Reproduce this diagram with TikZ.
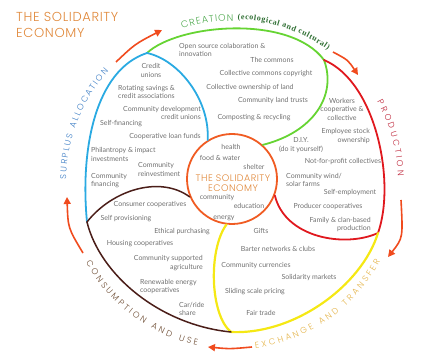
\documentclass[tikz,border=0pt]{standalone}
\usepackage{fontspec}
\setmainfont{Lato}
\IfFontExistsTF{Poppins Light}
  {\newfontfamily\hand{Poppins Light}[LetterSpace=5]}
  {\newfontfamily\hand{Poppins}[LetterSpace=5]}
\newfontfamily\serifb{Liberation Serif}
\usetikzlibrary{arrows.meta,decorations.text,calc}
\definecolor{txtgray}{RGB}{112,112,112}
\definecolor{cblue}{RGB}{42,170,226}
\definecolor{cgreen}{RGB}{102,212,51}
\definecolor{cred}{RGB}{224,24,30}
\definecolor{cyellow}{RGB}{245,232,20}
\definecolor{cbrown}{RGB}{75,30,25}
\definecolor{ccore}{RGB}{240,92,35}
\definecolor{carrow}{RGB}{240,75,30}
\definecolor{ctitle}{RGB}{224,136,58}
\definecolor{lgreen}{RGB}{80,170,80}
\definecolor{dgreen}{RGB}{46,110,50}
\definecolor{lred}{RGB}{190,38,58}
\definecolor{lgold}{RGB}{228,180,74}
\definecolor{lbrown}{RGB}{109,76,51}
\definecolor{lblue}{RGB}{60,125,196}
\begin{document}
\begin{tikzpicture}[x=1pt,y=-1pt,
  lbl/.style={font=\fontsize{7}{8.5}\selectfont, text=txtgray, inner sep=0pt, align=center},
  lbll/.style={lbl, align=left, anchor=west},
  lblr/.style={lbl, align=right, anchor=east},
  petal/.style={line width=1.8pt, line cap=round, line join=round},
  arr/.style={draw=carrow, line width=1.6pt, -{Triangle[length=7pt,width=7pt]}},
  arclab/.style={decorate, decoration={text along path, text align={fit to path}}}
]
\useasboundingbox (0,0) rectangle (422,352);
\coordinate (C) at (232,182);

% core circle
\node[circle, draw=ccore, line width=1.8pt, minimum size=90pt, inner sep=0pt] (core) at (232,179) {};

% junctions
\coordinate (J1) at (147,53);
\coordinate (J2) at (324,60);
\coordinate (J3) at (378,233);
\coordinate (J4) at (231,332);
\coordinate (J5) at (87,222);

% petals
\draw[petal, cgreen] (J1) .. controls (178,24) and (290,14) .. (J2);
\draw[petal, cgreen] (J2) .. controls (337,95) and (314,132) .. (core.48);
\draw[petal, cblue] (J1) .. controls (95,70) and (80,150) .. (J5);
\draw[petal, cblue] (J1) .. controls (179,60) and (210,100) .. (core.122);
\draw[petal, cred] (J2) .. controls (376,82) and (396,182) .. (J3);
\draw[petal, cred] (J3) .. controls (345,248) and (285,238) .. (core.-21);
\draw[petal, cyellow, line width=2.2pt] (J3) .. controls (362,285) and (295,335) .. (J4);
\draw[petal, cyellow, line width=2.2pt] (core.-97) .. controls (208,250) and (210,315) .. (J4);
\draw[petal, cbrown, line width=1.5pt] (J5) .. controls (100,275) and (160,325) .. (J4);
\draw[petal, cbrown, line width=1.5pt] (J5) .. controls (112,190) and (160,175) .. (core.203);

% outer arrows
\coordinate (a1s) at (116,62); \coordinate (a1e) at (162,30);
\coordinate (a2s) at (333,52); \coordinate (a2e) at (358,75);
\coordinate (a3s) at (401,200); \coordinate (a3e) at (388,257);
\coordinate (a4s) at (252,347); \coordinate (a4e) at (208,347);
\coordinate (a5s) at (83,253); \coordinate (a5e) at (67,197);
\draw[arr] (a1s) .. controls (135,44) .. (a1e);
\draw[arr] (a2s) .. controls (348,60) .. (a2e);
\draw[arr] (a3s) .. controls (403,238) .. (a3e);
\draw[arr] (a4s) .. controls (230,349) .. (a4e);
\draw[arr] (a5s) .. controls (68,228) .. (a5e);

% title
\node[anchor=west, inner sep=0pt, text=ctitle, font=\hand\fontsize{13}{16.5}\selectfont, align=left] (title) at (16,25) {THE SOLIDARITY\\ECONOMY};

% arc labels
\path[arclab, decoration={text={|\hand\fontsize{9.5}{10}\selectfont|CREATION}, text color=lgreen}]
  ($(C)+(-108:161)$) arc[start angle=-108, end angle=-89.5, radius=161];
\path[arclab, decoration={text={|\serifb\bfseries\fontsize{8}{9}\selectfont|(ecological and cultural)}, text color=dgreen}]
  ($(C)+(-88:163)$) arc[start angle=-88, end angle=-54, radius=163];
\path[arclab, decoration={text={|\hand\fontsize{8.5}{10}\selectfont|PRODUCTION}, text color=lred}]
  ($(C)+(-29:166)$) arc[start angle=-29, end angle=-2, radius=166];
\path[arclab, decoration={text={|\hand\fontsize{8.5}{10}\selectfont|EXCHANGE AND TRANSFER}, text color=lgold}]
  ($(C)+(82:168)$) arc[start angle=82, end angle=28, radius=168];
\path[arclab, decoration={text={|\hand\fontsize{8.5}{10}\selectfont|CONSUMPTION AND USE}, text color=lbrown}]
  ($(C)+(151:167)$) arc[start angle=151, end angle=102, radius=167];
\path[arclab, decoration={text={|\hand\fontsize{8.5}{10}\selectfont|SURPLUS ALLOCATION}, text color=lblue}]
  ($(C)+(181:166)$) arc[start angle=181, end angle=222, radius=166];

% blue region
\node[lbl] (b1) at (151,70.5) {Credit\\unions};
\node[lbll] (b2) at (118,92) {Rotating savings \&\\credit associations};
\node[lblr] (b3) at (201,113) {Community development\\credit unions};
\node[lbl] (b4) at (121,124) {Self-financing};
\node[lbl] (b5) at (165,137) {Cooperative loan funds};
\node[lbll] (b6) at (91,154.5) {Philantropy \& impact\\investments};
\node[lbll] (b7) at (138,169.5) {Community\\reinvestiment};
\node[lbll] (b8) at (91,180.5) {Community\\financing};

% green region
\node[lbll] (g1) at (179,50) {Open source colaboration \&\\innovation};
\node[lbl] (g2) at (272,60) {The commons};
\node[lbl] (g3) at (266,74) {Collective commons copyright};
\node[lbl] (g4) at (250,88) {Collective ownership of land};
\node[lbl] (g5) at (273,101) {Community land trusts};
\node[lbl] (g6) at (254,118) {Composting \& recycling};

% red region
\node[lbl] (r1) at (342,109) {Workers\\cooperative \&\\collective};
\node[lblr] (r2) at (370,136) {Employee stock\\ownership};
\node[lbl] (r3) at (301,145) {D.I.Y.\\(do it yourself)};
\node[lbl] (r4) at (343,162) {Not-for-profit collectives};
\node[lbll] (r5) at (286,180) {Community wind/\\solar farms};
\node[lbl] (r6) at (350,193) {Self-employment};
\node[lbl] (r7) at (328,207) {Producer cooperatives};
\node[lblr] (r8) at (371,224.5) {Family \& clan-based\\production};

% core texts
\node[lbl] (c1) at (231,147) {health};
\node[lbl] (c2) at (220,158) {food \& water};
\node[lbl] (c3) at (254,167) {shelter};
\node[inner sep=0pt, text=ctitle, font=\hand\fontsize{9.5}{10}\selectfont, align=center] (c4) at (233,183) {THE SOLIDARITY\\ECONOMY};
\node[lbl] (c5) at (217,198) {community};
\node[lbl] (c6) at (249,206) {education};
\node[lbl] (c7) at (224,218) {energy};

% yellow region
\node[lbl] (y1) at (261,231) {Gifts};
\node[lbl] (y2) at (278,249) {Barter networks \& clubs};
\node[lbl] (y3) at (256,266) {Community currencies};
\node[lbl] (y4) at (309,278) {Solidarity markets};
\node[lbl] (y5) at (255,292) {Sliding scale pricing};
\node[lbl] (y6) at (261,313) {Fair trade};

% brown region
\node[lbl] (w1) at (150,205) {Consumer cooperatives};
\node[lbl] (w2) at (126,219) {Self provisioning};
\node[lbl] (w3) at (182,232) {Ethical purchasing};
\node[lbl] (w4) at (140,244) {Housing cooperatives};
\node[lblr] (w5) at (203,263) {Community supported\\agriculture};
\node[lbll] (w6) at (140,286.5) {Renewable energy\\cooperatives};
\node[lbll] (w7) at (179,309) {Car/ride\\share};
\end{tikzpicture}
\end{document}
